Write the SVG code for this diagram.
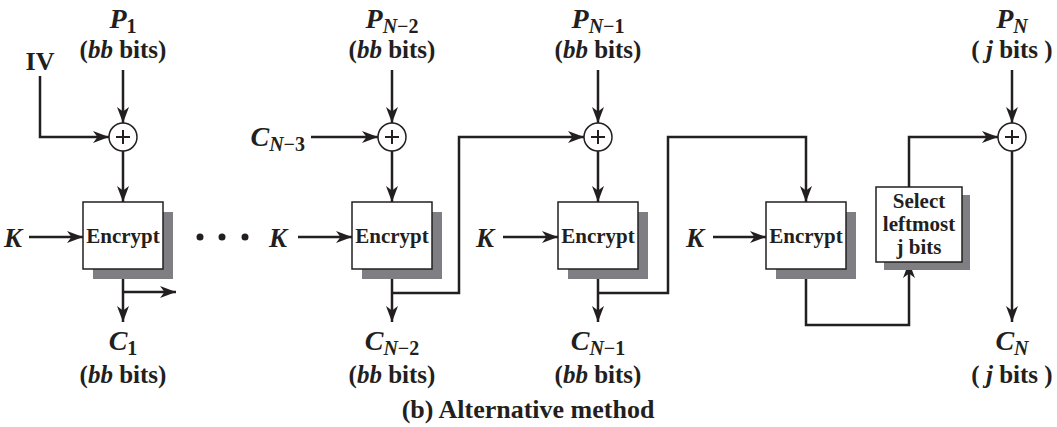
<svg xmlns="http://www.w3.org/2000/svg" width="1057" height="427" viewBox="0 0 1057 427">
<style>
text{font-family:"Liberation Serif","Times New Roman",serif;font-weight:bold;fill:#231f20}
.lbl{font-size:25px;text-anchor:middle}
.it{font-style:italic}
.big{font-size:28px}
.sub{font-size:20px}
.box{fill:#fff;stroke:#231f20;stroke-width:1.5}
.shadow{fill:#7f7f83}
.enc{font-size:21px;text-anchor:middle}
.wire{fill:none;stroke:#231f20;stroke-width:2.5}
.xor{fill:#fff;stroke:#231f20;stroke-width:1.5}
.plus{stroke:#231f20;stroke-width:2}
</style>
<defs>
<marker id="ah" markerUnits="userSpaceOnUse" markerWidth="18" markerHeight="13" refX="16" refY="6" orient="auto">
<path d="M0,0 L16,6 L0,12 L4.5,6 z" fill="#231f20"/>
</marker>
</defs>

<g id="connectors">
<path class="wire" d="M40,76 V137 H109" marker-end="url(#ah)"/>
<path class="wire" d="M123,70 V123" marker-end="url(#ah)"/>
<path class="wire" d="M123,151 V202" marker-end="url(#ah)"/>
<path class="wire" d="M29,237 H83" marker-end="url(#ah)"/>
<path class="wire" d="M123,269 V322" marker-end="url(#ah)"/>
<path class="wire" d="M123,292 H176" marker-end="url(#ah)"/>

<path class="wire" d="M392,70 V123" marker-end="url(#ah)"/>
<path class="wire" d="M311,137 H378" marker-end="url(#ah)"/>
<path class="wire" d="M392,151 V202" marker-end="url(#ah)"/>
<path class="wire" d="M298,237 H352" marker-end="url(#ah)"/>
<path class="wire" d="M392,269 V322" marker-end="url(#ah)"/>
<path class="wire" d="M392,293 H459 V137 H584" marker-end="url(#ah)"/>

<path class="wire" d="M598,70 V123" marker-end="url(#ah)"/>
<path class="wire" d="M598,151 V202" marker-end="url(#ah)"/>
<path class="wire" d="M503,237 H558" marker-end="url(#ah)"/>
<path class="wire" d="M598,269 V322" marker-end="url(#ah)"/>
<path class="wire" d="M598,293 H668 V137 H806 V202" marker-end="url(#ah)"/>

<path class="wire" d="M713,237 H766" marker-end="url(#ah)"/>
<path class="wire" d="M806,269 V325 H909 V262" marker-end="url(#ah)"/>
<path class="wire" d="M909,187 V137 H998" marker-end="url(#ah)"/>
<path class="wire" d="M1012,70 V123" marker-end="url(#ah)"/>
<path class="wire" d="M1012,151 V322" marker-end="url(#ah)"/>
</g>

<g id="xor1"><circle class="xor" cx="123" cy="137" r="14"/><path class="plus" d="M116,137 H130 M123,130 V144"/></g>
<g id="xor2"><circle class="xor" cx="392" cy="137" r="14"/><path class="plus" d="M385,137 H399 M392,130 V144"/></g>
<g id="xor3"><circle class="xor" cx="598" cy="137" r="14"/><path class="plus" d="M591,137 H605 M598,130 V144"/></g>
<g id="xor4"><circle class="xor" cx="1012" cy="137" r="14"/><path class="plus" d="M1005,137 H1019 M1012,130 V144"/></g>

<g id="enc1"><rect class="shadow" x="93" y="212" width="80" height="67"/><rect class="box" x="83" y="202" width="80" height="67"/><text class="enc" x="123" y="243">Encrypt</text></g>
<g id="enc2"><rect class="shadow" x="362" y="212" width="80" height="67"/><rect class="box" x="352" y="202" width="80" height="67"/><text class="enc" x="392" y="243">Encrypt</text></g>
<g id="enc3"><rect class="shadow" x="568" y="212" width="80" height="67"/><rect class="box" x="558" y="202" width="80" height="67"/><text class="enc" x="598" y="243">Encrypt</text></g>
<g id="enc4"><rect class="shadow" x="776" y="212" width="80" height="67"/><rect class="box" x="766" y="202" width="80" height="67"/><text class="enc" x="806" y="243">Encrypt</text></g>
<g id="select"><rect class="shadow" x="884" y="195" width="86" height="75"/><rect class="box" x="876" y="187" width="86" height="75"/>
<text class="enc" x="919" y="208">Select</text><text class="enc" x="919" y="231">leftmost</text><text class="enc" x="919" y="254">j bits</text></g>

<g id="dots"><circle cx="200" cy="237" r="3.5" fill="#231f20"/><circle cx="222" cy="237" r="3.5" fill="#231f20"/><circle cx="245" cy="237" r="3.5" fill="#231f20"/></g>

<g id="labels">
<text x="40" y="70" style="font-size:26px;text-anchor:middle">IV</text>
<text class="lbl" x="123" y="28"><tspan class="it big">P</tspan><tspan class="sub" dy="5">1</tspan></text>
<text class="lbl" x="123" y="58">(<tspan class="it">bb</tspan> bits)</text>
<text class="lbl" x="392" y="28"><tspan class="it big">P</tspan><tspan class="sub" dy="5"><tspan class="it">N</tspan>−2</tspan></text>
<text class="lbl" x="392" y="58">(<tspan class="it">bb</tspan> bits)</text>
<text class="lbl" x="598" y="28"><tspan class="it big">P</tspan><tspan class="sub" dy="5"><tspan class="it">N</tspan>−1</tspan></text>
<text class="lbl" x="598" y="58">(<tspan class="it">bb</tspan> bits)</text>
<text class="lbl" x="1012" y="28"><tspan class="it big">P</tspan><tspan class="sub it" dy="5">N</tspan></text>
<text class="lbl" x="1012" y="58">( <tspan class="it">j</tspan> bits )</text>
<text x="305" y="146" style="font-size:25px;text-anchor:end"><tspan class="it big">C</tspan><tspan class="sub" dy="5"><tspan class="it">N</tspan>−3</tspan></text>
<text class="it" x="4" y="247" style="font-size:27px">K</text>
<text class="it" x="269" y="247" style="font-size:27px">K</text>
<text class="it" x="476" y="247" style="font-size:27px">K</text>
<text class="it" x="686" y="247" style="font-size:27px">K</text>
<text class="lbl" x="123" y="350"><tspan class="it big">C</tspan><tspan class="sub" dy="5">1</tspan></text>
<text class="lbl" x="123" y="383">(<tspan class="it">bb</tspan> bits)</text>
<text class="lbl" x="392" y="350"><tspan class="it big">C</tspan><tspan class="sub" dy="5"><tspan class="it">N</tspan>−2</tspan></text>
<text class="lbl" x="392" y="383">(<tspan class="it">bb</tspan> bits)</text>
<text class="lbl" x="598" y="350"><tspan class="it big">C</tspan><tspan class="sub" dy="5"><tspan class="it">N</tspan>−1</tspan></text>
<text class="lbl" x="598" y="383">(<tspan class="it">bb</tspan> bits)</text>
<text class="lbl" x="1012" y="350"><tspan class="it big">C</tspan><tspan class="sub it" dy="5">N</tspan></text>
<text class="lbl" x="1012" y="383">( <tspan class="it">j</tspan> bits )</text>
<text class="lbl" x="528" y="418" style="font-size:26px">(b) Alternative method</text>
</g>
</svg>
